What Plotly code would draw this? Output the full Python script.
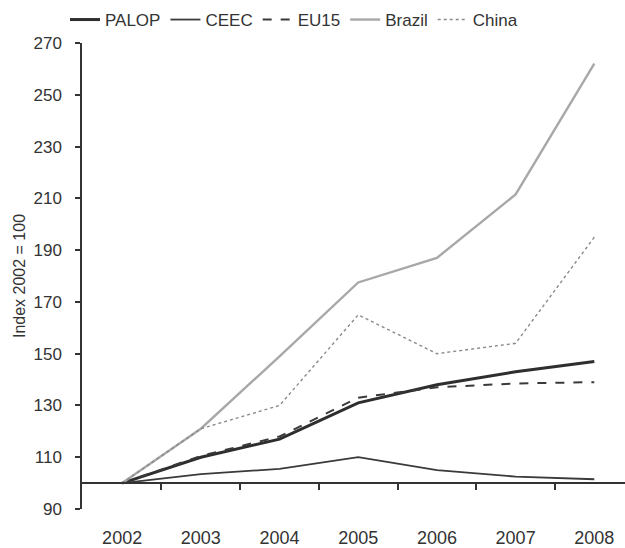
import plotly.graph_objects as go

years = ["2002", "2003", "2004", "2005", "2006", "2007", "2008"]
palop = [100, 110, 117, 131, 138, 143, 147]
ceec = [100, 103.5, 105.5, 110, 105, 102.5, 101.5]
eu15 = [100, 110.5, 118, 133, 137, 138.5, 139]
brazil = [100, 121, 149, 177.5, 187, 211.5, 262]
china = [100, 121, 130, 165, 150, 154, 195]

font_family = "Liberation Sans, Arial, sans-serif"
ink = "#333333"

fig = go.Figure()
fig.add_trace(go.Scatter(x=years, y=palop, name="PALOP", mode="lines",
                         line=dict(color="#2e2e2e", width=3)))
fig.add_trace(go.Scatter(x=years, y=ceec, name="CEEC", mode="lines",
                         line=dict(color="#3a3a3a", width=1.8)))
fig.add_trace(go.Scatter(x=years, y=eu15, name="EU15", mode="lines",
                         line=dict(color="#3a3a3a", width=2, dash="dash")))
fig.add_trace(go.Scatter(x=years, y=brazil, name="Brazil", mode="lines",
                         line=dict(color="#a8a8a8", width=2.4)))
fig.add_trace(go.Scatter(x=years, y=china, name="China", mode="lines",
                         line=dict(color="#8a8a8a", width=1.4, dash="dot")))
# invisible helper trace for the x-axis line drawn at y = 100
fig.add_trace(go.Scatter(x=[0], y=[100], xaxis="x2", mode="markers",
                         marker=dict(opacity=0), showlegend=False, hoverinfo="skip"))

y0, y1 = 90, 270
fig.update_layout(
    width=625, height=548,
    margin=dict(l=82, r=0, t=43, b=39, autoexpand=False),
    paper_bgcolor="white", plot_bgcolor="white",
    font=dict(family=font_family, size=17, color=ink),
    showlegend=True,
    legend=dict(orientation="h", x=65 / 625, xanchor="left", y=1 - 20 / 548, yanchor="middle",
                xref="container", yref="container",
                font=dict(size=17, color=ink), itemwidth=30,
                bgcolor="rgba(0,0,0,0)", borderwidth=0),
    xaxis=dict(type="category", range=[-0.51, 6.39], showline=False, ticks="",
               showgrid=False, zeroline=False, tickfont=dict(size=18, color=ink),
               ticklabelstandoff=16),
    xaxis2=dict(type="linear", overlaying="x", anchor="free",
                position=(100 - y0) / (y1 - y0), side="bottom",
                range=[-0.51, 6.39], showline=True, linecolor=ink, linewidth=1.5,
                ticks="outside", ticklen=6, tickwidth=1.5, tickcolor=ink,
                tickvals=[i + 0.5 for i in range(len(years) - 1)],
                showticklabels=False, showgrid=False, zeroline=False),
    yaxis=dict(range=[y0, y1], tick0=90, dtick=20, showline=True, linecolor=ink,
               linewidth=1.5, ticks="outside", ticklen=5, tickwidth=1.5, tickcolor=ink,
               showgrid=False, zeroline=False, tickfont=dict(size=17, color=ink),
               ticklabelstandoff=10,
               title=dict(text="Index 2002 = 100", font=dict(size=16, color=ink),
                          standoff=4)),
)
fig.write_html("out.html", config={"displayModeBar": False},
               post_script="document.body.style.margin='0';document.body.style.overflow='hidden';")
